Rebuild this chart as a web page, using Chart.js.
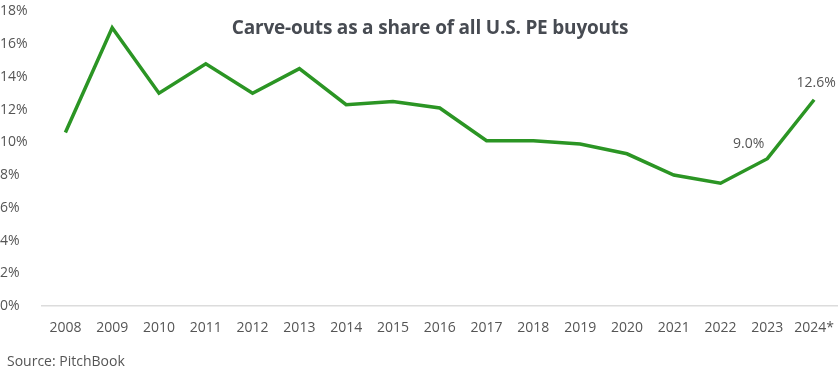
<!DOCTYPE html>
<html lang="en">
<head>
<meta charset="utf-8">
<script src="https://cdn.jsdelivr.net/npm/chart.js"></script>
<style>
  body { margin: 0; background: #fff; font-family: 'Open Sans', sans-serif; }
  .wrap { position: relative; width: 840px; height: 373px; }
  .title {
    position: absolute; left: 0; width: 860px; top: 14px; text-align: center;
    font-size: 19px; font-weight: 700; color: #474b52; letter-spacing: -0.2px;
  }
  .source { position: absolute; left: 7px; top: 351px; font-size: 14px; color: #555; }
</style>
</head>
<body>
<div class="wrap">
  <canvas id="chart" width="840" height="373"></canvas>
  <div class="title">Carve-outs as a share of all U.S. PE buyouts</div>
  <div class="source">Source: PitchBook</div>
</div>
<script>
  // Años y porcentaje de carve-outs
  var years = ['2008','2009','2010','2011','2012','2013','2014','2015','2016',
               '2017','2018','2019','2020','2021','2022','2023','2024*'];
  var shares = [10.6, 17.0, 13.0, 14.8, 13.0, 14.5, 12.3, 12.5, 12.1,
                10.1, 10.1, 9.9, 9.3, 8.0, 7.5, 9.0, 12.6];
  var yTicks = [0, 2, 4, 6, 8, 10, 12, 14, 16, 18];
  var labelled = ['2023', '2024*'];

  // Etiquetas de valor para los últimos puntos
  var valueLabels = {
    id: 'valueLabels',
    afterDatasetsDraw: function(chart) {
      var ctx = chart.ctx;
      var xs = chart.scales.x, ys = chart.scales.y;
      ctx.save();
      ctx.font = '14px "Open Sans", sans-serif';
      ctx.fillStyle = '#555';
      ctx.textBaseline = 'bottom';
      labelled.forEach(function(yr) {
        var i = years.indexOf(yr);
        var px = xs.getPixelForValue(i), py = ys.getPixelForValue(shares[i]);
        var txt = shares[i].toFixed(1) + '%';
        if (i === years.length - 1) {
          ctx.textAlign = 'center';
          ctx.fillText(txt, px + 2, py - 10);
        } else {
          ctx.textAlign = 'right';
          ctx.fillText(txt, px - 3, py - 8);
        }
      });
      ctx.restore();
    }
  };

  new Chart(document.getElementById('chart'), {
    type: 'line',
    data: {
      labels: years,
      datasets: [{
        data: shares,
        borderColor: '#2b9524',
        borderWidth: 3.5,
        pointRadius: 0,
        tension: 0,
        fill: false
      }]
    },
    options: {
      responsive: false,
      animation: false,
      layout: { padding: { top: 10, right: 0, left: 0, bottom: 0 } },
      plugins: { legend: { display: false }, tooltip: { enabled: false } },
      scales: {
        x: {
          offset: true,
          grid: { display: false },
          border: { display: true, color: '#dcdcdc', width: 1.5 },
          ticks: { color: '#555', font: { size: 14, family: 'Open Sans' }, padding: 6, maxRotation: 0, autoSkip: false },
          afterFit: function(s) { s.height = 67; }
        },
        y: {
          min: 0, max: 18,
          afterBuildTicks: function(s) { s.ticks = yTicks.map(function(v) { return { value: v }; }); },
          grid: { display: false },
          border: { display: false },
          ticks: {
            color: '#555', font: { size: 14, family: 'Open Sans' }, crossAlign: 'far',
            callback: function(v) { return v + '%'; }
          },
          afterFit: function(s) { s.width = 42; }
        }
      }
    },
    plugins: [valueLabels]
  });
</script>
</body>
</html>
